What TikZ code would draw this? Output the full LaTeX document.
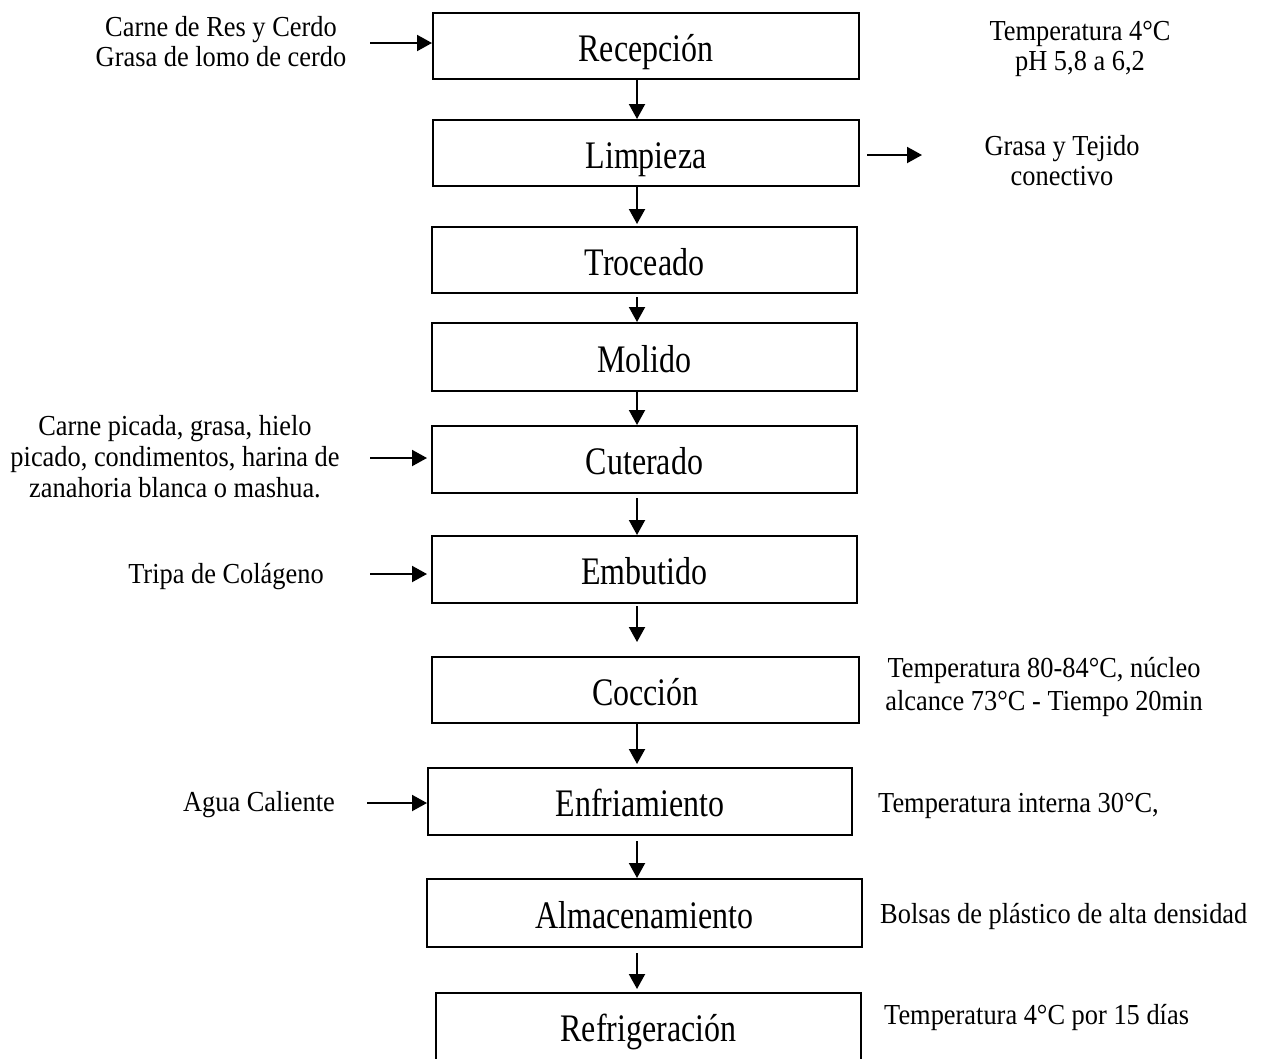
\documentclass[tikz,border=0pt]{standalone}
\usepackage{fontspec}
\setmainfont{Liberation Serif}[FakeStretch=0.82]
\newfontfamily\sidefont{Liberation Serif}[FakeStretch=0.91]
\usetikzlibrary{arrows.meta}
\begin{document}
\begin{tikzpicture}[x=1pt,y=-1pt,
  box/.style={draw, line width=2pt, inner sep=0pt, text height=33pt, text depth=3pt,
    font=\fontsize{39}{44}\selectfont},
  side/.style={font=\sidefont\fontsize{29}{30}\selectfont, align=center, inner sep=0pt},
  sidewide/.style={font=\sidefont\fontsize{29}{33}\selectfont, align=center, inner sep=0pt},
  sidemid/.style={font=\sidefont\fontsize{29}{31}\selectfont, align=center, inner sep=0pt},
  arr/.style={line width=2pt, -{Triangle[length=15pt,width=16pt]}}]
\useasboundingbox (0,0) rectangle (1268,1058);
\clip (0,0) rectangle (1268,1058);
\fill[white] (0,0) rectangle (1268,1058);

% process boxes
\node[box, minimum width=426pt, minimum height=66pt] (rec) at (646,46) {Recepción};
\node[box, minimum width=426pt, minimum height=66pt] (lim) at (646,153) {Limpieza};
\node[box, minimum width=425pt, minimum height=66pt] (tro) at (644.5,260) {Troceado};
\node[box, minimum width=425pt, minimum height=68pt] (mol) at (644.5,357) {Molido};
\node[box, minimum width=425pt, minimum height=67pt] (cut) at (644.5,459.5) {Cuterado};
\node[box, minimum width=425pt, minimum height=67pt] (emb) at (644.5,569.5) {Embutido};
\node[box, minimum width=427pt, minimum height=66pt] (coc) at (645.5,690) {Cocción};
\node[box, minimum width=424pt, minimum height=67pt] (enf) at (640,801.5) {Enfriamiento};
\node[box, minimum width=435pt, minimum height=68pt] (alm) at (644.5,913) {Almacenamiento};
\node[box, minimum width=425pt, minimum height=82pt] (ref) at (648.5,1034) {\raisebox{8pt}{Refrigeración}};

% vertical flow
\coordinate (ax) at (637,0);
\draw[arr] (rec.south -| ax) -- (lim.north -| ax);
\draw[arr, shorten >=2pt] (lim.south -| ax) -- (tro.north -| ax);
\draw[arr, shorten <=3pt] (tro.south -| ax) -- (mol.north -| ax);
\draw[arr] (mol.south -| ax) -- (cut.north -| ax);
\draw[arr, shorten <=4pt] (cut.south -| ax) -- (emb.north -| ax);
\draw[arr, shorten <=2pt, shorten >=14pt] (emb.south -| ax) -- (coc.north -| ax);
\draw[arr, shorten >=3pt] (coc.south -| ax) -- (enf.north -| ax);
\draw[arr, shorten <=5pt] (enf.south -| ax) -- (alm.north -| ax);
\draw[arr, shorten <=5pt, shorten >=3pt] (alm.south -| ax) -- (ref.north -| ax);

% side texts
\node[side] (t1) at (221,42) {Carne de Res y Cerdo\\Grasa de lomo de cerdo};
\node[side] (t2) at (1080,49) {Temperatura 4°C\\pH 5,8 a 6,2};
\node[side] (t3) at (1062,161) {Grasa y Tejido\\conectivo};
\node[sidemid] (t4) at (175,457) {Carne picada, grasa, hielo\\picado, condimentos, harina de\\zanahoria blanca o mashua.};
\node[side] (t5) at (226,577) {Tripa de Colágeno};
\node[sidewide] (t6) at (1044,687) {Temperatura 80-84°C, núcleo\\alcance 73°C - Tiempo 20min};
\node[side] (t7) at (259,805) {Agua Caliente};
\node[side, anchor=base west] (t8) at (878,812) {Temperatura interna 30°C,};
\node[side, anchor=base west] (t9) at (880,923) {Bolsas de plástico de alta densidad};
\node[side, anchor=base west] (t10) at (884,1024) {Temperatura 4°C por 15 días};

% inputs and outputs
\coordinate (i1) at (370,43);
\coordinate (i2) at (370,458);
\coordinate (i3) at (370,574);
\coordinate (i4) at (367,803);
\coordinate (o1) at (922,155);
\draw[arr] (i1) -- (i1 -| rec.west);
\draw[arr, shorten >=4pt] (i2) -- (i2 -| cut.west);
\draw[arr, shorten >=4pt] (i3) -- (i3 -| emb.west);
\draw[arr] (i4) -- (i4 -| enf.west);
\draw[arr, shorten <=7pt] (lim.east |- o1) -- (o1);
\end{tikzpicture}
\end{document}
